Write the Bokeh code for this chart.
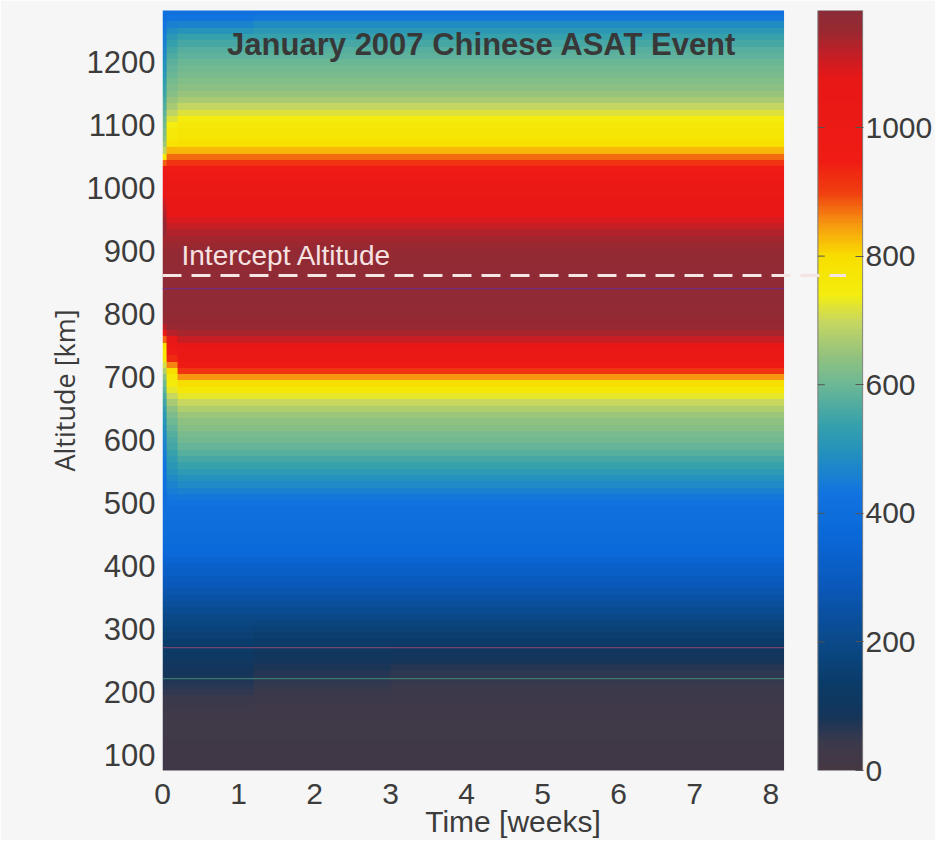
import numpy as np
from bokeh.plotting import figure
from bokeh.models import Range1d, LinearAxis, FixedTicker, LinearColorMapper, Label
from bokeh.embed import file_html
from bokeh.resources import INLINE

# ---------------- data ----------------
X_TICKS = [0, 1, 2, 3, 4, 5, 6, 7, 8]
Y_TICKS = [100, 200, 300, 400, 500, 600, 700, 800, 900, 1000, 1100, 1200]
CB_TICKS = [0, 200, 400, 600, 800, 1000]
CB_MAX = 1182

ALTITUDES_KM = list(range(80, 1290, 10))  # 121 rows, 80 ... 1280 km

# density profile (colour value) after ~3 weeks, from 80 km upwards
LATE_PROFILE = [
    20, 20, 21, 22, 23, 24, 25, 26, 27, 28,            # 80-170
    30, 33, 37, 43, 50, 58, 68, 80, 94, 110,           # 180-270
    126, 144, 162, 180, 198, 215, 232, 250, 267, 284,  # 280-370
    300, 316, 332, 348, 362, 374, 385, 393, 399, 404,  # 380-470
    409, 416, 426, 440, 458, 478, 498, 518, 538, 557,  # 480-570
    575, 592, 606, 618, 628, 640, 655, 675, 700, 728,  # 580-670
    762, 800, 850, 915, 975, 1012, 1042, 1075, 1110, 1138,   # 680-770
    1155, 1163, 1167, 1169, 1170, 1170, 1170, 1170, 1170, 1169,  # 780-870
    1167, 1164, 1160, 1154, 1144, 1130, 1112, 1092, 1074, 1060,  # 880-970
    1050, 1040, 1030, 1015, 992, 960, 918, 875, 830, 795,  # 980-1070
    780, 772, 762, 746, 720, 694, 668, 648, 635, 625,  # 1080-1170
    615, 606, 597, 586, 573, 558, 540, 515, 482, 440,  # 1180-1270
    420,                                               # 1280
]

# weeks 1.2-3: lower shell still a little denser
MID_OVERRIDES = {190: 38, 200: 43, 210: 50, 220: 59, 230: 68, 240: 78,
                 250: 89, 260: 101, 270: 115}

# weeks 0.2-1.2
WEEK1_OVERRIDES = {180: 36, 190: 43, 200: 51, 210: 61, 220: 73, 230: 85,
                   240: 96, 250: 106, 260: 116, 270: 127, 280: 140,
                   290: 155, 300: 170, 310: 186,
                   1250: 500, 1260: 465, 1270: 432, 1280: 412}

# weeks 0.06-0.2 (cloud still spreading)
T1_OVERRIDES = {500: 426, 510: 436, 520: 448, 530: 464, 540: 480, 550: 496,
                560: 510, 570: 524, 580: 538, 590: 550, 600: 562, 610: 576,
                620: 590, 630: 604, 640: 620, 650: 640, 660: 668, 670: 698,
                680: 725, 690: 748, 700: 768, 710: 800, 720: 860, 730: 930,
                740: 985, 750: 1030, 760: 1080, 770: 1125, 780: 1150,
                1070: 786, 1080: 770, 1090: 758, 1100: 742, 1110: 718,
                1120: 692, 1130: 668, 1140: 648, 1150: 632, 1160: 620,
                1170: 610, 1180: 600, 1190: 590, 1200: 578, 1210: 566,
                1220: 552, 1230: 535, 1240: 515, 1250: 488, 1260: 458,
                1270: 430, 1280: 412}

# weeks 0-0.06 (just after the intercept)
T0_OVERRIDES = {500: 400, 510: 405, 520: 410, 530: 416, 540: 422, 550: 428,
                560: 434, 570: 442, 580: 450, 590: 460, 600: 470, 610: 480,
                620: 490, 630: 500, 640: 515, 650: 530, 660: 548, 670: 566,
                680: 586, 690: 608, 700: 636, 710: 675, 720: 715, 730: 748,
                740: 768, 750: 795, 760: 880, 770: 1030, 780: 1120, 790: 1155,
                930: 1168, 940: 1160, 950: 1150, 960: 1135, 970: 1115,
                980: 1095, 990: 1075, 1000: 1060, 1010: 1045, 1020: 1025,
                1030: 985, 1040: 880, 1050: 760, 1060: 690, 1070: 655,
                1080: 635, 1090: 620, 1100: 608, 1110: 596, 1120: 584,
                1130: 572, 1140: 560, 1150: 548, 1160: 536, 1170: 524,
                1180: 512, 1190: 500, 1200: 490, 1210: 480, 1220: 470,
                1230: 460, 1240: 450, 1250: 440, 1260: 430, 1270: 420,
                1280: 410}

PERIOD_STARTS_WEEKS = [0.0, 0.06, 0.2, 1.2, 3.0]
TIME_END_WEEKS = 8.175
TIME_STEP_WEEKS = 0.025

INTERCEPT_ALT_KM = 862
INTERCEPT_LABEL_ALT_KM = 893
TITLE_ALT_KM = 1228
SCAN_LINE_ALTS = [841, 271, 222]
SCAN_LINE_COLORS = ["#6c2c8e", "#8c4a7a", "#3f8a78"]

# ---------------- colour map (jet-like, as in the colour bar) ----------------
PALETTE_STOPS = [0, 40, 80, 130, 200, 280, 360, 430, 490, 540, 600, 650,
                 700, 740, 800, 850, 900, 950, 1080, 1120, 1150, 1182]
PALETTE_COLORS = ["#463843", "#3c3a4c", "#16355a", "#0a3c68", "#0a4a8a",
                  "#0a58b8", "#0a68d8", "#1274e0", "#2290c0", "#38a2aa",
                  "#6cb896", "#98c47c", "#c8d860", "#f4ee10", "#f8e000",
                  "#f89a10", "#f04010", "#f01c14", "#e81818", "#c02028",
                  "#9c2830", "#8c2c38"]


def build_palette(stops, colors, vmax, n=256):
    rgb = np.array([[int(c[i:i + 2], 16) for i in (1, 3, 5)] for c in colors], float)
    v = np.linspace(0, vmax, n)
    chans = [np.interp(v, stops, rgb[:, k]) for k in range(3)]
    return ["#%02x%02x%02x" % (int(r), int(g), int(b)) for r, g, b in zip(*chans)]


PALETTE = build_palette(PALETTE_STOPS, PALETTE_COLORS, CB_MAX)


def profile_with(base, overrides):
    return [overrides.get(a, v) for a, v in zip(ALTITUDES_KM, base)]


late = LATE_PROFILE
mid = profile_with(late, MID_OVERRIDES)
week1 = profile_with(late, WEEK1_OVERRIDES)
t1 = profile_with(week1, T1_OVERRIDES)
t0 = profile_with(week1, T0_OVERRIDES)
PERIOD_PROFILES = [t0, t1, week1, mid, late]

ncols = int(round(TIME_END_WEEKS / TIME_STEP_WEEKS))
centers = (np.arange(ncols) + 0.5) * TIME_STEP_WEEKS
idx = np.searchsorted(PERIOD_STARTS_WEEKS, centers, side="right") - 1
grid = np.column_stack([PERIOD_PROFILES[i] for i in idx]).astype(float)

mapper = LinearColorMapper(palette=PALETTE, low=0, high=CB_MAX)

# ---------------- figure ----------------
BG = "#f6f6f6"
TXT = "#3c3c3c"
FONT = "Liberation Sans"

X_END = 9.22          # frame extends over the colour bar
CB_LEFT, CB_RIGHT = 8.62, 9.21
DASH_END = 8.99
ALT_STEP = 10

p = figure(frame_width=701, frame_height=760,
           x_range=Range1d(0, X_END), y_range=Range1d(76, 1282.5),
           output_backend="svg", toolbar_location=None,
           min_border_left=162, min_border_top=10, min_border_right=68,
           min_border_bottom=0,
           background_fill_color=BG, border_fill_color=BG)
p.extra_y_ranges = {"cb": Range1d(0, CB_MAX)}
p.grid.visible = False
p.outline_line_color = None

p.image(image=[grid], x=0, y=ALTITUDES_KM[0] - ALT_STEP / 2,
        dw=ncols * TIME_STEP_WEEKS, dh=len(ALTITUDES_KM) * ALT_STEP,
        color_mapper=mapper)

# scanned stray lines
p.segment(x0=[0] * len(SCAN_LINE_ALTS), x1=[TIME_END_WEEKS] * len(SCAN_LINE_ALTS),
          y0=SCAN_LINE_ALTS, y1=SCAN_LINE_ALTS, line_color=SCAN_LINE_COLORS,
          line_width=1.3, line_alpha=0.8)

# colour bar drawn in the frame on its own range
cb_vals = np.linspace(0, CB_MAX, 600).reshape(-1, 1)
p.image(image=[cb_vals], x=CB_LEFT, y=0, dw=CB_RIGHT - CB_LEFT, dh=CB_MAX,
        color_mapper=mapper, y_range_name="cb")
p.quad(left=[CB_LEFT], right=[CB_RIGHT], bottom=[0], top=[CB_MAX],
       fill_color=None, line_color="#7a7a7a", line_width=1, y_range_name="cb")
p.segment(x0=[CB_LEFT] * (len(CB_TICKS) - 1), x1=[CB_LEFT + 0.09] * (len(CB_TICKS) - 1),
          y0=CB_TICKS[1:], y1=CB_TICKS[1:], line_color="#555555", line_width=1,
          y_range_name="cb")

# intercept altitude
p.segment(x0=[0], x1=[DASH_END], y0=[INTERCEPT_ALT_KM], y1=[INTERCEPT_ALT_KM],
          line_color="#f4e4e4", line_width=3, line_dash="19 10")
p.add_layout(Label(x=0.25, y=INTERCEPT_LABEL_ALT_KM, text="Intercept Altitude",
                   text_font=FONT, text_font_size="28px", text_color="#f6e2e2",
                   text_baseline="alphabetic"))
p.add_layout(Label(x=4.2, y=TITLE_ALT_KM, text="January 2007 Chinese ASAT Event",
                   text_font=FONT, text_font_size="31px", text_font_style="bold",
                   text_color="#383838", text_align="center",
                   text_baseline="alphabetic"))

# axes
for ax in (p.xaxis[0], p.yaxis[0]):
    ax.major_tick_line_color = None
    ax.major_tick_out = 0
    ax.major_tick_in = 0
    ax.minor_tick_line_color = None
    ax.minor_tick_out = 0
    ax.minor_tick_in = 0
    ax.axis_line_color = None
    ax.major_label_text_font = FONT
    ax.major_label_text_font_size = "30px"
    ax.major_label_text_color = TXT
    ax.axis_label_text_font_style = "normal"
    ax.axis_label_text_color = TXT

p.xaxis.ticker = FixedTicker(ticks=X_TICKS)
p.xaxis.major_label_standoff = 13
p.xaxis.axis_label = "Time [weeks]"
p.xaxis.axis_label_text_font = FONT
p.xaxis.axis_label_text_font_size = "30px"
p.xaxis.axis_label_standoff = -2

p.yaxis.ticker = FixedTicker(ticks=Y_TICKS)
p.yaxis.major_label_text_font_size = "31px"
p.yaxis.major_label_standoff = 7
p.yaxis.axis_label = "Altitude [km]"
p.yaxis.axis_label_text_font = "Open Sans"
p.yaxis.axis_label_text_font_size = "27px"
p.yaxis.axis_label_standoff = 1

cb_axis = LinearAxis(y_range_name="cb", ticker=FixedTicker(ticks=CB_TICKS),
                     major_tick_in=8, major_tick_out=0,
                     major_tick_line_color="#555555", minor_tick_line_color=None,
                     minor_tick_in=0, minor_tick_out=0,
                     axis_line_color=None, major_label_standoff=2,
                     major_label_text_font=FONT, major_label_text_font_size="30px",
                     major_label_text_color=TXT)
p.add_layout(cb_axis, "right")

open("out.html", "w").write(file_html(p, INLINE))
